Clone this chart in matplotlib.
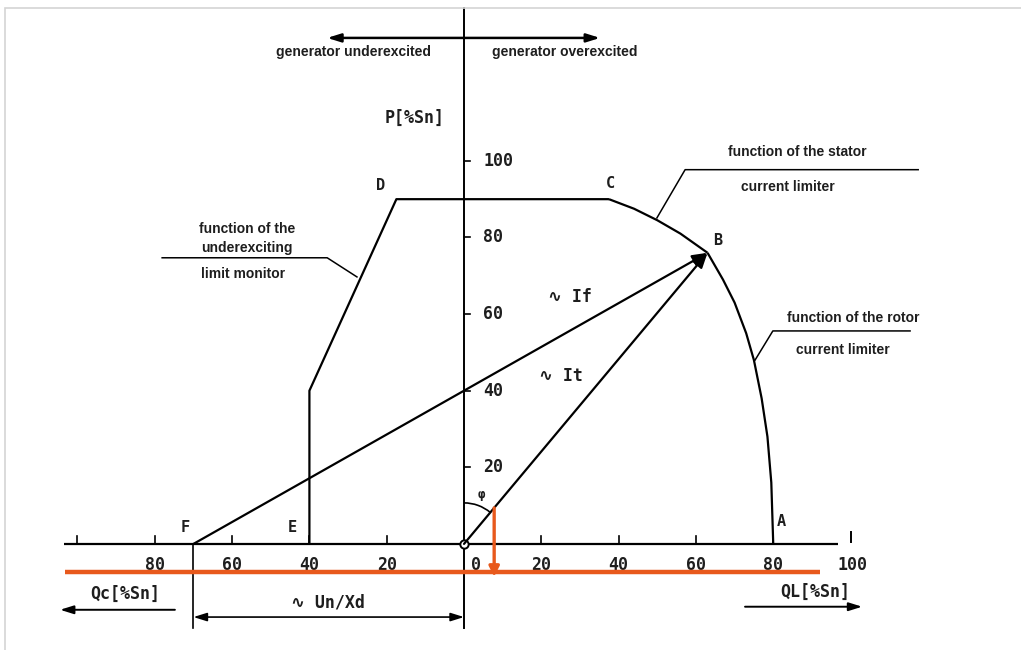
import numpy as np
import matplotlib
matplotlib.use('Agg')
import matplotlib.pyplot as plt
from matplotlib.patches import Arc, Rectangle

# operating points of the capability diagram, Q and P in % of Sn
pt_names = ['A', 'B', 'C', 'D', 'E', 'F']
pt_q = [80, 63, 37.5, -17.5, -40, -70]
pt_p = [0, 76, 90, 90, 0, 0]

# underexcitation limit: E -> knee -> D -> C
under_q = [-40, -40, -17.5, 37.5]
under_p = [0, 40, 90, 90]

# stator current limit C -> B
stator_q = [37.5, 44, 50, 56, 63]
stator_p = [90, 87.5, 84.5, 81, 76]

# rotor current limit B -> A
rotor_q = [63, 67, 70, 73, 75, 77, 78.5, 79.5, 80]
rotor_p = [76, 69, 63, 55, 48, 38, 28, 16, 0]

xticks_neg = [-80, -60, -40, -20]
xticks_pos = [20, 40, 60, 80]
yticks = [20, 40, 60, 80, 100]

un_xd = -70          # Un/Xd, position of F
phi_q, phi_p = 7.8, 9.4   # marked point on It

orange = '#e8591c'
txtc = '#1e1e1e'
mono = ['DejaVu Sans Mono', 'DejaVu Sans']
ann = ['Liberation Sans Narrow', 'Liberation Sans', 'DejaVu Sans']

fig = plt.figure(figsize=(10.21, 6.5), dpi=100)
ax = fig.add_axes([0, 0, 1, 1])
ax.set_xlim(-120.05, 144.1)
ax.set_ylim(-27.7, 142.0)
ax.axis('off')

fig.patches.append(Rectangle((5 / 1021, -0.1), 1.2, (650 - 8) / 650 + 0.1,
                             transform=fig.transFigure, fill=False,
                             edgecolor='#d4d4d4', lw=1.2))

k = dict(color='black', lw=1.6, solid_capstyle='butt')


def label(x, y, s, size=12, ha='center'):
    ax.text(x, y, s, ha=ha, va='center', fontsize=size,
            family=mono, fontweight='bold', color=txtc)


def note(x, y, s):
    ax.text(x, y, s, ha='center', va='center', fontsize=10,
            family=ann, fontweight='bold', color=txtc)


# axes
ax.plot([-103.5, 96.8], [0, 0], **k)
ax.plot([0, 0], [140, -22], color='black', lw=1.4)
for t in xticks_neg + xticks_pos + [-100]:
    ax.plot([t, t], [0, 2.0], color='black', lw=1.2)
ax.plot([100, 100], [0.6, 3.0], color='black', lw=1.4)
for t in yticks:
    ax.plot([0, 1.6], [t, t], color='black', lw=1.2)
    label(5.0, t, str(t), ha='left')
for t in xticks_neg:
    label(t, -5.5, str(-t))
for t in xticks_pos:
    label(t, -5.5, str(t))
label(3.0, -5.5, '0')
label(100.6, -5.5, '100')
ax.plot(0, 0, 'o', ms=6, mfc='white', mec='black', mew=1.4)

# limit curves
ax.plot(under_q, under_p, **k)
ax.plot(stator_q, stator_p, **k)
ax.plot(rotor_q, rotor_p, **k)

offs = {'A': (2.1, 5.8), 'B': (2.5, 3.1), 'C': (0.3, 4.0),
        'D': (-4.0, 3.5), 'E': (-4.4, 4.2), 'F': (-2.2, 4.2)}
for n, q, p in zip(pt_names, pt_q, pt_p):
    dx, dy = offs[n]
    label(q + dx, p + dy, n, size=11)

# If and It vectors
arr = dict(arrowstyle='-|>,head_length=0.9,head_width=0.35', color='black',
           lw=1.6, shrinkA=0, shrinkB=0)
ax.annotate('', xy=(pt_q[1], pt_p[1]), xytext=(un_xd, 0), arrowprops=arr)
ax.annotate('', xy=(pt_q[1], pt_p[1]), xytext=(0, 0), arrowprops=arr)
label(27.5, 64.5, '∿ If')
label(25.0, 43.8, '∿ It')

# angle phi
phi_deg = np.degrees(np.arctan2(pt_p[1], pt_q[1]))
ax.add_patch(Arc((0, 0), 21.2, 21.4, theta1=phi_deg, theta2=90,
                 color='black', lw=1.2))
label(4.4, 12.8, 'φ', size=9)

# Un/Xd dimension
ax.plot([un_xd, un_xd], [0, -22], color='black', lw=1.2)
dim = dict(arrowstyle='<|-|>,head_length=0.8,head_width=0.25', color='black',
           lw=1.2, shrinkA=0, shrinkB=0)
ax.annotate('', xy=(0, -19.1), xytext=(un_xd, -19.1), arrowprops=dim)
label(-35.2, -15.2, '∿ Un/Xd')

# axis captions
label(-12.9, 111.2, 'P[%Sn]')
label(-87.7, -13.1, 'Qc[%Sn]')
label(90.8, -12.5, 'QL[%Sn]')
one = dict(arrowstyle='-|>,head_length=0.8,head_width=0.25', color='black',
           lw=1.4, shrinkA=0, shrinkB=0)
ax.annotate('', xy=(-104.5, -17.2), xytext=(-74.8, -17.2), arrowprops=one)
ax.annotate('', xy=(103.0, -16.4), xytext=(72.7, -16.4), arrowprops=one)

# excitation direction
two = dict(arrowstyle='<|-|>,head_length=0.8,head_width=0.25', color='black',
           lw=1.8, shrinkA=0, shrinkB=0)
ax.annotate('', xy=(35.2, 132.1), xytext=(-35.4, 132.1), arrowprops=two)
note(-28.7, 128.5, 'generator underexcited')
note(26.1, 128.5, 'generator overexcited')

# leader notes
lk = dict(color='black', lw=1.1)
ax.plot([-78.1, -35.4, -27.7], [74.7, 74.7, 69.7], **lk)
note(-56.1, 82.2, 'function of the')
note(-56.1, 77.3, 'underexciting')
note(-57.2, 70.5, 'limit monitor')

ax.plot([117.5, 57.2, 49.9], [97.7, 97.7, 85.1], **lk)
note(86.2, 102.3, 'function of the stator')
note(83.8, 93.2, 'current limiter')

ax.plot([115.4, 79.9, 75.3], [55.6, 55.6, 48.0], **lk)
note(100.6, 59.0, 'function of the rotor')
note(98.1, 50.7, 'current limiter')

# orange marker line and drop arrow
ax.plot([-103.2, 92.0], [-7.3, -7.3], color=orange, lw=3.2,
        solid_capstyle='butt', zorder=5)
ax.annotate('', xy=(phi_q, -8.6), xytext=(phi_q, phi_p),
            arrowprops=dict(arrowstyle='-|>,head_length=0.6,head_width=0.3',
                            color=orange, lw=2.4, shrinkA=0, shrinkB=0),
            zorder=6)

fig.savefig('out.png', dpi=100)
